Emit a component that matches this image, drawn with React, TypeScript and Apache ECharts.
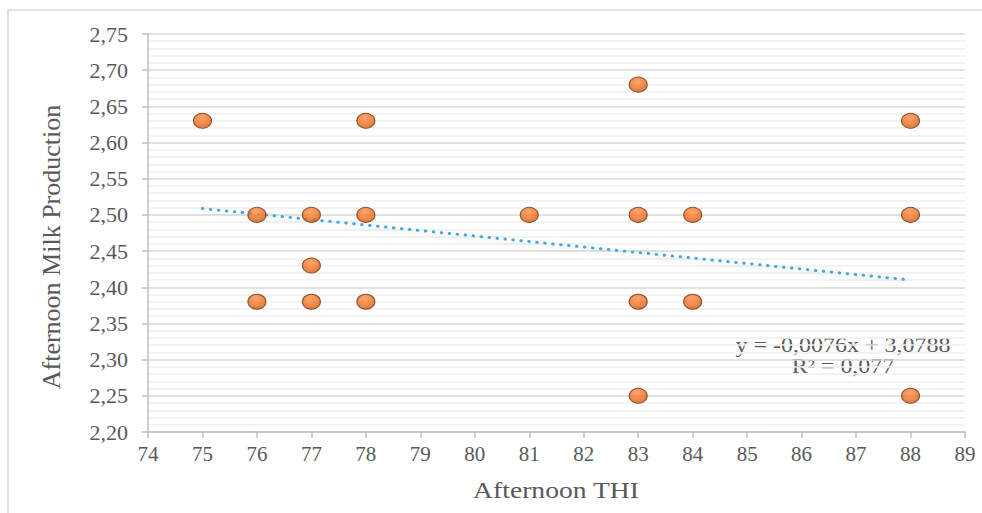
import React, { useEffect, useRef } from "react";
import * as echarts from "echarts";

const thiValues = [75, 76, 76, 77, 77, 77, 78, 78, 78, 81, 83, 83, 83, 83, 84, 84, 88, 88, 88];
const milkValues = [2.63, 2.5, 2.38, 2.5, 2.43, 2.38, 2.63, 2.5, 2.38, 2.5, 2.68, 2.5, 2.38, 2.25, 2.5, 2.38, 2.63, 2.5, 2.25];
const trendSlope = -0.0076;
const trendIntercept = 3.0788;
const trendRange = [75, 88];
const equationLines = ["y = -0,0076x + 3,0788", "R² = 0,077"];
const xTitle = "Afternoon THI";
const yTitle = "Afternoon Milk Production";

const FONT = "Liberation Serif, serif";
const TXT = "#595959";

export default function App() {
  const ref = useRef<HTMLDivElement>(null);
  useEffect(() => {
    if (!ref.current) return;
    const chart = echarts.init(ref.current, null, { renderer: "svg" });
    const points = thiValues.map((x, i) => [x, milkValues[i]]);
    const trend = trendRange.map((x) => [x, trendIntercept + trendSlope * x]);
    chart.setOption({
      animation: false,
      backgroundColor: "#ffffff",
      textStyle: { fontFamily: FONT },
      grid: { left: 148, right: 17, top: 34, bottom: 81, containLabel: false },
      xAxis: {
        type: "value",
        min: 74,
        max: 89,
        interval: 1,
        axisLine: { show: true, lineStyle: { color: "#BFBFBF", width: 1.5 } },
        axisTick: { show: true, length: 6, lineStyle: { color: "#BFBFBF", width: 1.5 } },
        axisLabel: { color: TXT, fontFamily: FONT, fontSize: 21, margin: 11 },
        splitLine: { show: false },
      },
      yAxis: {
        type: "value",
        min: 2.2,
        max: 2.75,
        interval: 0.05,
        axisLine: { show: true, lineStyle: { color: "#BFBFBF", width: 1.5 } },
        axisTick: { show: true, length: 6, inside: false, lineStyle: { color: "#BFBFBF", width: 1.5 } },
        axisLabel: {
          color: TXT,
          fontFamily: FONT,
          fontSize: 22,
          margin: 20,
          formatter: (v: number) => v.toFixed(2).replace(".", ","),
        },
        splitLine: { show: true, lineStyle: { color: "#D9D9D9", width: 1.5 } },
        minorTick: { show: false, splitNumber: 5 },
        minorSplitLine: { show: true, lineStyle: { color: "#EFEFEF", width: 1.5 } },
      },
      graphic: [
        {
          type: "rect",
          shape: { x: 8, y: 10, width: 1000, height: 600 },
          style: { fill: "none", stroke: "#D9D9D9", lineWidth: 1.5 },
          silent: true,
          z: -10,
        },
        {
          type: "text",
          x: 51,
          y: 247,
          rotation: Math.PI / 2,
          style: {
            text: yTitle,
            fill: TXT,
            font: `26px ${FONT}`,
            align: "center",
            verticalAlign: "middle",
          },
        },
        {
          type: "text",
          x: 556,
          y: 490,
          scaleX: 1.15,
          style: {
            text: xTitle,
            fill: TXT,
            font: `24px ${FONT}`,
            align: "center",
            verticalAlign: "middle",
          },
        },
        {
          type: "text",
          x: 843,
          y: 345,
          scaleX: 1.2,
          style: { text: equationLines[0], fill: TXT, font: `20px ${FONT}`, align: "center", verticalAlign: "middle" },
        },
        {
          type: "text",
          x: 843,
          y: 366,
          scaleX: 1.2,
          style: { text: equationLines[1], fill: TXT, font: `20px ${FONT}`, align: "center", verticalAlign: "middle" },
        },
      ],
      series: [
        {
          type: "line",
          data: trend,
          symbol: "none",
          z: 1,
          lineStyle: {
            color: "#45A8DE",
            width: 3,
            type: [0.5, 7.5],
            cap: "round",
            shadowColor: "rgba(0,0,0,0.18)",
            shadowBlur: 6,
            shadowOffsetY: 2,
          },
        },
        {
          type: "scatter",
          data: points,
          symbol: "circle",
          symbolSize: [18, 15],
          z: 3,
          itemStyle: {
            color: new echarts.graphic.RadialGradient(0.45, 0.3, 0.75, [
              { offset: 0, color: "#FB8F4A" },
              { offset: 0.55, color: "#EF6F20" },
              { offset: 1, color: "#C4530F" },
            ]),
            borderColor: "#6E3210",
            borderWidth: 1,
          },
        },
      ],
    });
    return () => chart.dispose();
  }, []);
  return <div ref={ref} style={{ width: 982, height: 513, position: "absolute", left: 0, top: 0 }} />;
}
